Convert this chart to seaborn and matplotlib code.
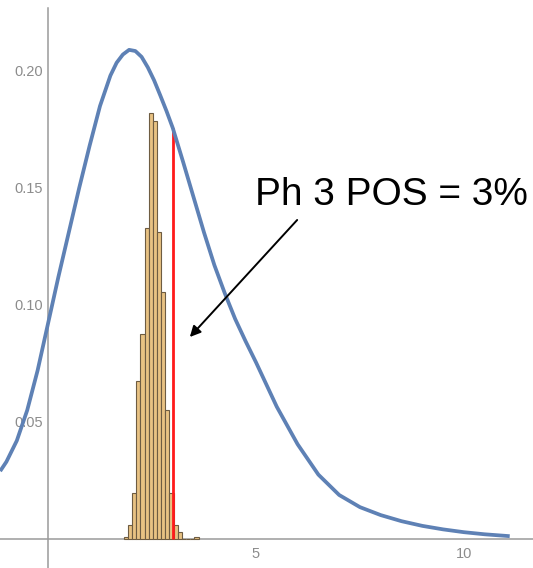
import numpy as np
import pandas as pd
import matplotlib
matplotlib.use("Agg")
import matplotlib.pyplot as plt
import seaborn as sns

# ---- data ----
curve_x = [-1.15, -1.0, -0.75, -0.5, -0.25, 0.0, 0.25, 0.5, 0.75, 1.0, 1.25,
           1.5, 1.65, 1.8, 1.95, 2.1, 2.25, 2.4, 2.55, 2.7, 2.85, 3.0, 3.25,
           3.5, 3.75, 4.0, 4.25, 4.5, 4.75, 5.0, 5.5, 6.0, 6.5, 7.0, 7.5, 8.0,
           8.5, 9.0, 9.5, 10.0, 10.5, 11.1]
curve_y = [0.029, 0.033, 0.042, 0.055, 0.072, 0.092, 0.112, 0.131, 0.150,
           0.168, 0.185, 0.198, 0.2035, 0.207, 0.209, 0.2085, 0.206, 0.2015,
           0.196, 0.1895, 0.1828, 0.1756, 0.161, 0.146, 0.131, 0.117, 0.105,
           0.094, 0.0845, 0.0755, 0.0565, 0.0405, 0.0275, 0.0188, 0.0136,
           0.0102, 0.0076, 0.0056, 0.0041, 0.0029, 0.0020, 0.0012]

bin_edges = [1.82, 1.92, 2.02, 2.12, 2.22, 2.32, 2.42, 2.52, 2.62, 2.72, 2.82,
             2.92, 3.02, 3.12, 3.22, 3.32, 3.42, 3.52, 3.62]
bin_heights = [0.001, 0.0058, 0.0197, 0.0675, 0.0876, 0.133, 0.182, 0.1786,
               0.131, 0.1056, 0.055, 0.0197, 0.006, 0.003, 0.0, 0.0, 0.0, 0.0008]

threshold_x = 3.0
threshold_top = 0.1756

x_major = [5, 10]
x_minor = [-1, 1, 2, 3, 4, 6, 7, 8, 9, 11]
y_major = [0.05, 0.10, 0.15, 0.20]
y_minor = [-0.01, 0.01, 0.02, 0.03, 0.04, 0.06, 0.07, 0.08, 0.09, 0.11, 0.12,
           0.13, 0.14, 0.16, 0.17, 0.18, 0.19, 0.21, 0.22]

label_text = "Ph 3 POS = 3%"

# ---- figure ----
sns.set_style("white")
plt.rcParams['font.family'] = ['Liberation Sans', 'DejaVu Sans']

fig = plt.figure(figsize=(5.33, 5.68), dpi=100)
ax = fig.add_axes([0, 0, 1, 1])

centers = [(a + b) / 2 for a, b in zip(bin_edges[:-1], bin_edges[1:])]
hist_df = pd.DataFrame({"x": centers, "w": bin_heights})
sns.histplot(data=hist_df, x="x", weights="w", bins=bin_edges, stat="count",
             color="#E8C283", edgecolor="#6E5C42", linewidth=0.8, alpha=1.0,
             ax=ax, zorder=2)

ax.vlines(threshold_x, 0, threshold_top, color="#FF1A1A", linewidth=2.0, zorder=3)

curve_df = pd.DataFrame({"x": curve_x, "y": curve_y})
sns.lineplot(data=curve_df, x="x", y="y", color="#5E81B5", linewidth=2.7,
             ax=ax, zorder=4, solid_capstyle="butt", solid_joinstyle="round")

ax.set_xlim(-1.154, 11.66)
ax.set_ylim(-0.0124, 0.2303)
ax.set_xlabel("")
ax.set_ylabel("")

axis_color = "#9A9A9A"
for s in ["top", "right"]:
    ax.spines[s].set_visible(False)
ax.spines["left"].set_position(("data", 0))
ax.spines["bottom"].set_position(("data", 0))
ax.spines["left"].set_bounds(-0.0124, 0.227)
for s in ["left", "bottom"]:
    ax.spines[s].set_color(axis_color)
    ax.spines[s].set_linewidth(1.1)
    ax.spines[s].set_zorder(1)

ax.set_xticks(x_major)
ax.set_xticklabels([str(v) for v in x_major])
ax.set_xticks(x_minor, minor=True)
ax.set_yticks(y_major)
ax.set_yticklabels([f"{v:.2f}" for v in y_major])
ax.set_yticks(y_minor, minor=True)

ax.tick_params(axis="both", which="both", direction="in", color=axis_color,
               width=1.0, labelcolor="#8C8C8C", labelsize=10.5)
ax.tick_params(axis="x", which="major", length=3.2, pad=6)
ax.tick_params(axis="x", which="minor", length=2.4)
ax.tick_params(axis="y", which="major", length=3.2, pad=3.5)
ax.tick_params(axis="y", which="minor", length=2.4)

ax.annotate("", xy=(3.41, 0.0863), xytext=(5.99, 0.1363),
            arrowprops=dict(arrowstyle="-|>", color="black", lw=1.4,
                            mutation_scale=16, shrinkA=0, shrinkB=0),
            zorder=5)
ax.text(4.98, 0.1427, label_text, fontsize=28, color="black",
        ha="left", va="baseline", zorder=5)

fig.savefig("out.png", dpi=100)
